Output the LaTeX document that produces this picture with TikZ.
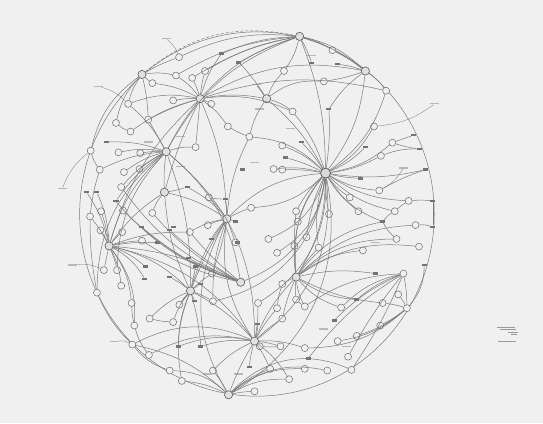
\documentclass[tikz,border=0pt]{standalone}
\begin{document}
\begin{tikzpicture}[x=0.3463pt,y=-0.3463pt,
  edge/.style={draw=black!52,line width=0.5pt},
  dot/.style={circle,draw=black!58,fill=black!6,line width=0.5pt,minimum size=7pt,inner sep=0pt},
  hub/.style={circle,draw=black!65,fill=black!12,line width=0.6pt,minimum size=8.2pt,inner sep=0pt},
  bighub/.style={circle,draw=black!70,fill=black!15,line width=0.7pt,minimum size=10pt,inner sep=0pt},
  txtmark/.style={rectangle,fill=black!55,minimum width=5pt,minimum height=2.4pt,inner sep=0pt},
  lab/.style={rectangle,fill=black!28,minimum width=9pt,minimum height=1.2pt,inner sep=0pt}]
\fill[white!94!black] (0,0) rectangle (1568,1222);
\useasboundingbox (0,0) rectangle (1568,1222);
% outer ring
\draw[edge] (742,618) circle[x radius=512,y radius=526];
% hubs
\node[bighub] (hA) at (940,500) {};
\foreach \n/\x/\y in {hB/865/105,hC/578/285,hD/480/438,hE/655/632,hF/315/710,hG/550/840,hH/735/985,hI/855/800,hJ/1055/205,hK/660/1140,hL/695/815,hM/410/215,hN/770/285,hO/475/555}
  \node[hub] (\n) at (\x,\y) {};
% circle nodes
\foreach \n/\x/\y in {t1/517/165,t2/440/240,t3/508/218,t4/555/225,t5/592/205,t7/960/145,t8/820/205,t9/935/235,t10/1115/262,t11/845/322,t12/658/365,t13/565/425,t14/610/300,t16/500/290,
 l1/370/300,l2/335/355,l3/377/380,l4/428/345,l5/262/435,l6/342/440,l7/405/442,l8/288/490,l9/358/497,l10/403/488,l13/350/540,l15/260/625,l16/292/610,l17/355/608,l18/290/665,l19/353/670,l20/410/695,l21/300/780,l22/338/780,l23/350/825,l24/280/845,l25/380/875,l26/388/940,l27/382/995,l28/430/1025,l29/432/920,l30/440/615,
 m1/500/930,m2/518/880,m4/615/870,m5/490/1070,m6/525/1100,m7/615/1070,m12/612/790,m16/548/670,
 c1/720/395,c2/815/420,c3/815/490,c4/790/488,c6/603/570,c9/725/600,c10/600/650,c12/680/700,
 r1/1080/365,r2/1133/412,r6/1100/450,r9/1010/570,r10/1095/550,r11/1180/580,r13/1035/610,r14/1140/610,r15/950/618,r17/1200/650,r19/1145/690,r20/1210/712,r21/1048/723,r23/1165/790,r25/920/715,r26/885/685,r27/850/710,r28/855/610,r29/860/640,r30/775/690,r31/800/730,
 b1/815/820,b2/855/865,b3/880/885,b4/985/888,b6/1105/875,b7/1150/850,b8/1175/890,b9/1098/940,b10/1030/970,b11/975/985,b12/1005/1030,b13/1015/1068,b14/880/1005,b15/810/1000,b16/750/1000,b17/745/875,b18/800/890,b19/815/920,b21/780/1065,b22/835/1095,b23/880/1065,b24/945/1070,b25/735/1130}
  \node[dot] (\n) at (\x,\y) {};
% dark text marks
\foreach \n/\x/\y in {k1/900/182,k2/975/185,k3/950/315,k4/870/410,k5/825/455,k6/965/925,k7/745/935,k8/1195/390,k9/1210/430,k10/1228/490,k11/1040/515,k12/1250/580,k13/1250/655,k14/1225/765,k15/308/410,k16/250/555,k17/280/555,k18/335/580,k19/420/770,k20/418/805,k21/545/745,k22/565/770,k23/490/665,k24/685/700,k25/1055/425,k26/1085/790,k27/640/155,k28/690/180,k29/580/1000,k30/515/1000,k31/500/655,k32/580/820,k33/490/800,k34/563/870,k35/1030/865,k36/1105/640,k38/890/1035,k39/720/1060,k40/455/700,k41/408/655,k42/333/580,k43/700/490,k44/650/575,k45/540/540,k46/610/690,k47/680/640}
  \node[txtmark] (\n) at (\x,\y) {};
% grey label scribbles
\foreach \n/\x/\y in {g1/480/112,g2/285/250,g3/180/545,g4/210/765,g5/330/985,g6/1255/300,g7/1165/485,g8/838/370,g9/740/245,g10/750/315,g11/520/480,g12/735/470,g13/900/160,g14/600/1080,g15/690/1080,g16/935/950,g17/1000/1000,g18/520/395,g19/430/410,g20/1085/700}
  \node[lab] (\n) at (\x,\y) {};
\foreach \a/\b in {g1/t1,g2/l1,g3/l5,g4/l21,g5/l27,g6/r1,g7/r10}
  \draw[edge,line width=0.3pt] (\a) to[bend left=15] (\b);
% legend block
\foreach \n/\x/\y/\w in {e1/1460/945/18,e2/1468/952/16,e3/1482/959/10,e4/1484/966/6,e5/1465/985/18}
  \node[lab,minimum width=\w pt,fill=black!40] (\n) at (\x,\y) {};
% ----- edges -----
\foreach \t/\b in {r1/15,k25/10,r6/10,r2/15,k10/10,k11/5,r9/10,r10/12,r11/15,r13/10,r15/5,r28/8,r25/12,r27/15,c2/10,k5/5,k4/5,c3/5,c1/20,hE/20,c4/10,hN/10,t11/10,hJ/15,t10/18,r14/15,k36/18,r26/8,r29/10,k3/5}
  \draw[edge] (hA) to[bend right=\b] (\t);
\foreach \t/\b in {hH/30,m4/35,hL/30,c9/20,hI/15,hK/35,b17/30,r31/25,r30/25}
  \draw[edge] (hA) to[bend left=\b] (\t);
\foreach \t/\b in {t1/15,t4/10,t5/10,k27/10,hC/15,t7/-10,hJ/-15,k1/-5,t8/-10,k28/5,hD/20,t3/12,hA/-10}
  \draw[edge] (hB) to[bend right=\b] (\t);
\draw[edge,densely dashed] (hM) to[bend left=25] (hB);
\foreach \t/\b in {t4/5,t5/-5,k27/-10,t3/10,t2/10,l4/5,t16/5,t14/-5,t12/-10,t13/0,hD/5,hE/-10,t11/-15,hN/-10,l3/10,l1/15,hF/15,hO/5}
  \draw[edge] (hC) to[bend right=\b] (\t);
\draw[edge] (hC) to[bend left=20] (hJ);
\draw[edge] (hC) to[bend left=15] (t10);
\foreach \t/\b in {l7/5,l10/5,l9/10,l13/10,l8/10,hF/15,hO/5,t13/-10,l4/0,l1/10,l6/10,l22/20,l24/25,hG/-10,hH/-25,hL/-20,k18/10,k15/10}
  \draw[edge] (hD) to[bend right=\b] (\t);
\foreach \t/\b in {c6/5,k44/5,k45/10,c9/-5,c10/5,k46/5,m16/10,k47/-5,hG/10,hO/10,m12/-5,m4/10,hH/20,c1/-10,hK/30,c12/0}
  \draw[edge] (hE) to[bend right=\b] (\t);
\foreach \t/\b in {k16/10,l15/5,l18/5,l16/5,k17/10,l22/-5,l23/-10,l20/-5,l19/-5,hO/-10,l25/-15,l26/-20,k19/-10,k20/-15,hL/-10,k40/-5,hH/-20,hG/-15,m16/-10,l21/0}
  \draw[edge] (hF) to[bend right=\b] (\t);
\foreach \t/\b in {l13/15,k42/15,l17/12,l30/10,k41/10,m16/5,k21/5,l20/10,k23/5}
  \draw[edge] (hL) to[bend left=\b] (\t);
\foreach \t/\b in {m2/5,k34/5,m1/10,k32/-5,k33/5,m4/-5,l29/10,k30/10,k29/-5,hH/-10,hO/-10,m12/-5,hE/-5,k22/0,m6/15}
  \draw[edge] (hG) to[bend right=\b] (\t);
\foreach \t/\b in {k7/5,b16/5,b15/-5,b21/-5,b22/-10,k39/5,m7/10,k29/10,k30/15,l28/20,b14/-10,b19/-5,hI/-10,hK/5,b17/5,b18/-5,l27/25}
  \draw[edge] (hH) to[bend right=\b] (\t);
\foreach \t/\b in {b1/5,b2/5,b3/10,b4/15,k35/15,r25/-5,r27/-5,r29/-5,r28/-5,r21/-15,k36/-20,r19/-20,k26/-10,b19/5,b6/10,r17/-20,r20/-20}
  \draw[edge] (hI) to[bend right=\b] (\t);
\foreach \t/\b in {t7/5,t9/-5,k2/5,t10/-10,k3/10,hB/10}
  \draw[edge] (hJ) to[bend right=\b] (\t);
\foreach \t/\b in {m6/10,m5/20,b25/-5,b21/-10,m7/5,l27/15,b22/-15,b23/-20,b13/-35,b24/-25}
  \draw[edge] (hK) to[bend right=\b] (\t);
\foreach \t/\b in {t2/5,t1/-5,t3/-10,l1/10,l2/15,l5/20,l4/-5}
  \draw[edge] (hM) to[bend right=\b] (\t);
\foreach \t/\b in {t8/-10,k28/5,c1/10,t11/-10,t9/-20,g9/0}
  \draw[edge] (hN) to[bend right=\b] (\t);
\foreach \t/\b in {b7/5,b9/-5,b10/-10,b11/-15,b14/-20,b6/5,k14/20,r23/5}
  \draw[edge] (b8) to[bend right=\b] (\t);
\foreach \t/\b in {k35/10,b4/15,b3/15,k38/10,k6/10,b12/5,b13/-5}
  \draw[edge] (r23) to[bend right=\b] (\t);
\foreach \a/\b/\c in {k12/k13/0,k13/r17/10,k12/r11/5,r14/k36/10,k36/r19/10,r11/r14/5,r2/k9/5,k8/r2/0,k9/r6/10,k10/r10/5,l2/l3/10,l5/l8/10,l8/l15/5,l15/l24/5,l24/l27/10,l27/m5/15,l25/l26/5,l26/l28/10,l29/m1/5,m2/hG/0,c4/c3/5,t12/c1/5,hO/k45/5,hO/l30/10,c6/k44/5,b1/b18/5,b2/b3/5,b16/b15/5}
  \draw[edge] (\a) to[bend right=\c] (\b);
\end{tikzpicture}
\end{document}
